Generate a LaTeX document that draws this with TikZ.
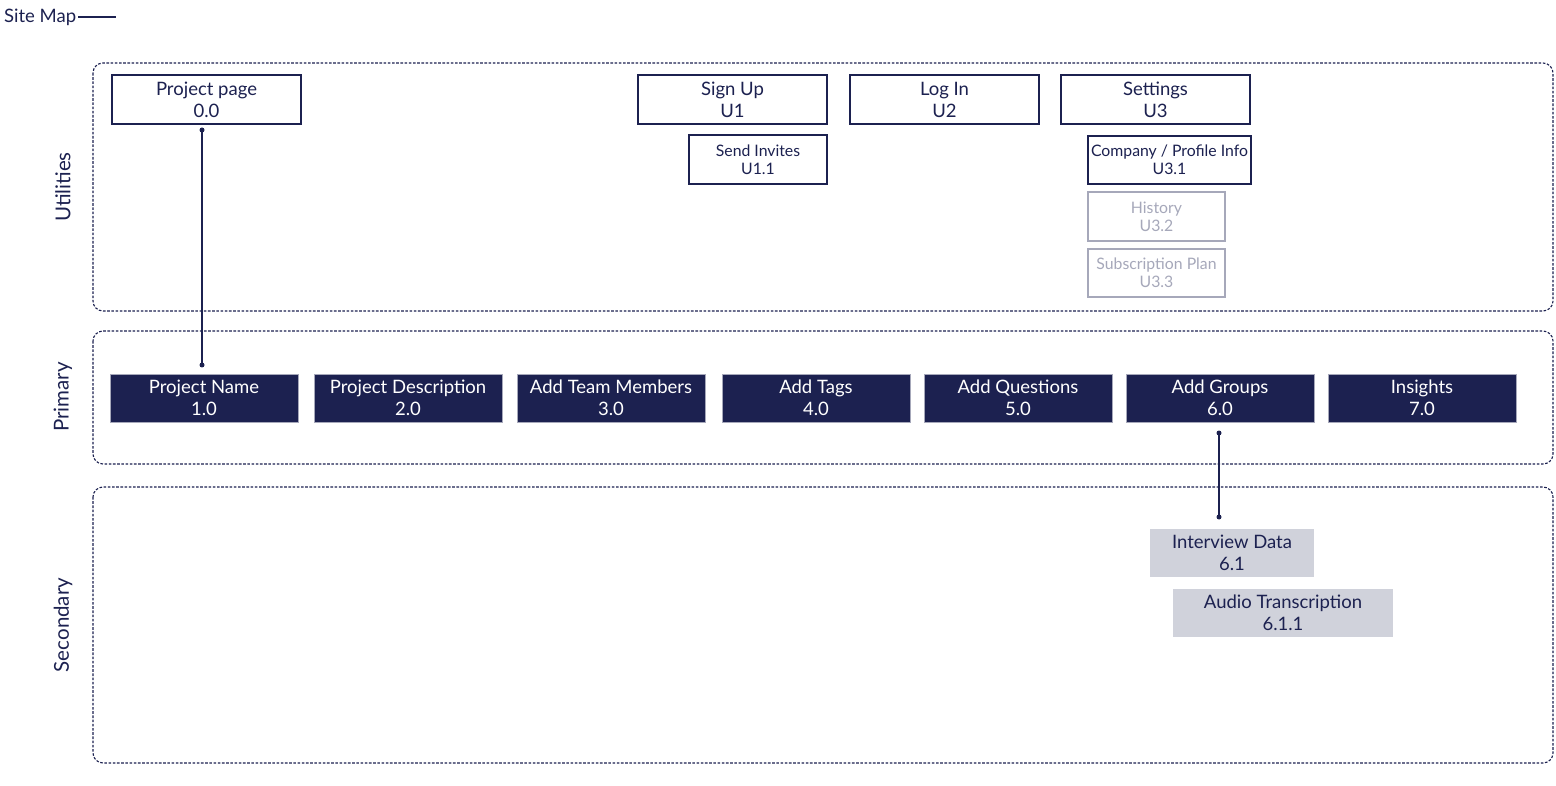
\documentclass[tikz,border=0pt]{standalone}
\usepackage{fontspec}
\setmainfont{Lato}
\definecolor{navy}{HTML}{1C2150}
\definecolor{lgray}{HTML}{D0D2DB}
\definecolor{mgray}{HTML}{A6A8BA}
\begin{document}
\begin{tikzpicture}[x=1pt,y=-1pt,
  region/.style={draw=navy,line width=1.1pt,dash pattern=on 2.6pt off 1.6pt,rounded corners=10pt},
  lbl/.style={text=navy,font=\fontsize{20.5}{24}\selectfont,rotate=90},
  ubox/.style={draw=navy,line width=1.3pt,fill=white,text=navy,align=center,inner sep=0pt,font=\fontsize{18.5}{22}\selectfont},
  sbox/.style={draw=navy,line width=1.3pt,fill=white,text=navy,align=center,inner sep=0pt,font=\fontsize{15.8}{18}\selectfont},
  gbox/.style={draw=mgray,line width=1.1pt,fill=white,text=mgray,align=center,inner sep=0pt,font=\fontsize{15.8}{18}\selectfont},
  pbox/.style={fill=navy,draw=mgray,line width=0.4pt,text=white,align=center,inner sep=0pt,minimum width=188pt,minimum height=48pt,font=\fontsize{18.5}{22}\selectfont},
  secbox/.style={fill=lgray,text=navy,align=center,inner sep=0pt,minimum height=48pt,font=\fontsize{18.5}{22}\selectfont},
  link/.style={draw=navy,line width=1.3pt},
  dot/.style={circle,fill=navy,inner sep=0pt,minimum size=5pt}]
\useasboundingbox (0,0) rectangle (1556,786);
% title
\node[anchor=west,text=navy,font=\fontsize{18.5}{22}\selectfont,inner sep=0pt] (title) at (4,17) {Site Map};
\coordinate (tl) at (116,17);
\draw[navy,line width=1.3pt] (title.east) ++(2pt,0) -- (tl);
% regions
\draw[region] (93,63) rectangle (1553,311);
\draw[region] (93,331) rectangle (1553,464);
\draw[region] (93,487) rectangle (1553,763);
\node[lbl] (lu) at (63,187) {Utilities};
\node[lbl] (lp) at (63,397) {Primary};
\node[lbl] (ls) at (63,625) {Secondary};
% utilities
\node[ubox,minimum width=189pt,minimum height=49pt] (pp) at (206.5,99.5) {Project page\\0.0};
\node[ubox,minimum width=189pt,minimum height=49pt] (u1) at (732.5,99.5) {Sign Up\\U1};
\node[ubox,minimum width=189pt,minimum height=49pt] (u2) at (944.5,99.5) {Log In\\U2};
\node[ubox,minimum width=189pt,minimum height=49pt] (u3) at (1155.5,99.5) {Settings\\U3};
\node[sbox,minimum width=138pt,minimum height=49pt] (u11) at (758,159.5) {Send Invites\\U1.1};
\node[sbox,minimum width=163pt,minimum height=48pt] (u31) at (1169.5,160) {Company / Profile Info\\U3.1};
\node[gbox,minimum width=137pt,minimum height=49pt] (u32) at (1156.5,216.5) {History\\U3.2};
\node[gbox,minimum width=137pt,minimum height=48pt] (u33) at (1156.5,273) {Subscription Plan\\U3.3};
% primary
\node[pbox] (p1) at (204,398) {Project Name\\1.0};
\node[pbox] (p2) at (408,398) {Project Description\\2.0};
\node[pbox] (p3) at (611,398) {Add Team Members\\3.0};
\node[pbox] (p4) at (816,398) {Add Tags\\4.0};
\node[pbox] (p5) at (1018,398) {Add Questions\\5.0};
\node[pbox] (p6) at (1220,398) {Add Groups\\6.0};
\node[pbox] (p7) at (1422,398) {Insights\\7.0};
% secondary
\node[secbox,minimum width=164pt] (s61) at (1232,553) {Interview Data\\6.1};
\node[secbox,minimum width=220pt] (s611) at (1283,613) {Audio Transcription\\6.1.1};
% connectors
\node[dot] (d1) at (202,130) {};
\node[dot] (d2) at (202,365) {};
\draw[link] (d1.center) -- (d2.center);
\node[dot] (d3) at (1219,433) {};
\node[dot] (d4) at (1219,517) {};
\draw[link] (d3.center) -- (d4.center);
\end{tikzpicture}
\end{document}
